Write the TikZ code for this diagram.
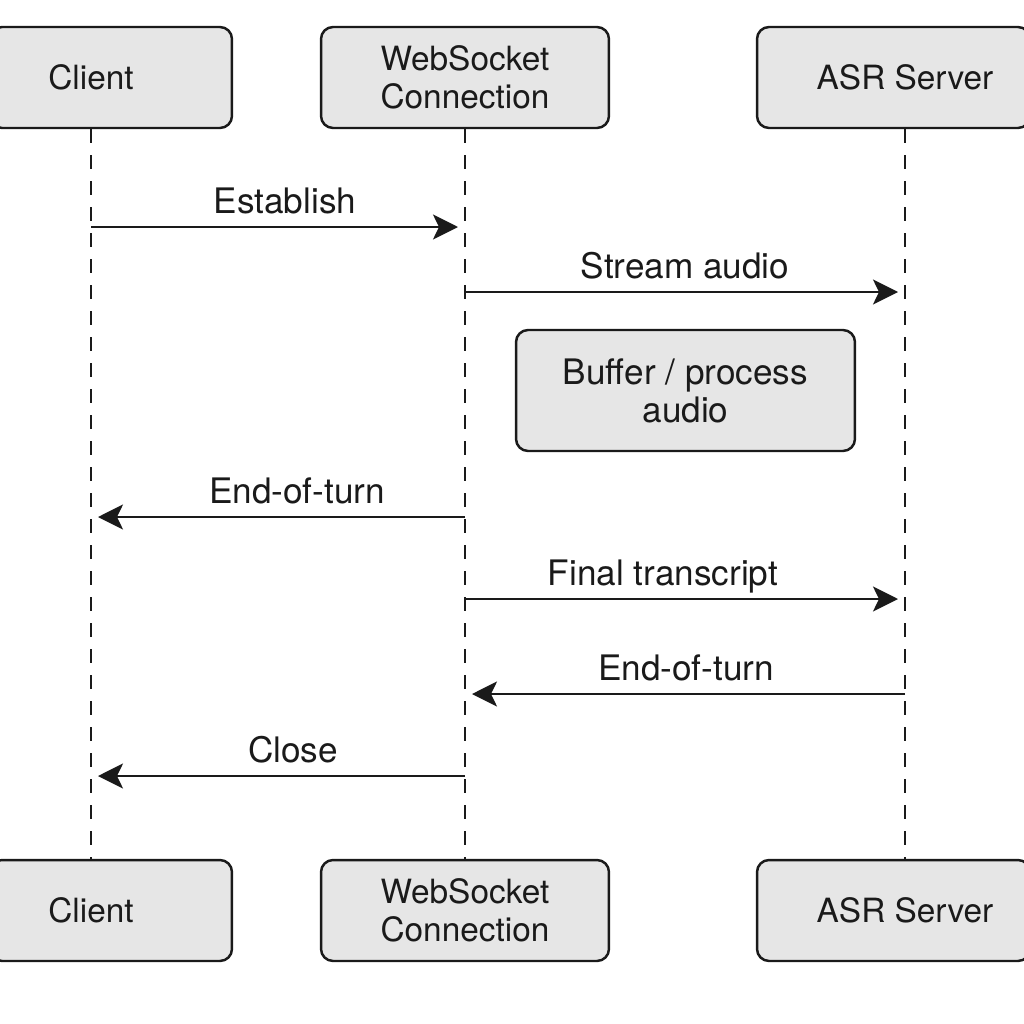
\documentclass[tikz,border=0pt]{standalone}
\usepackage{fontspec}
\setmainfont{TeX Gyre Heros}
\usetikzlibrary{arrows.meta}
\definecolor{boxfill}{HTML}{E6E6E6}
\definecolor{ink}{HTML}{1A1A1A}
\tikzset{
  headbox/.style={draw=ink, line width=1.4pt, fill=boxfill, rounded corners=0.24cm,
    minimum height=2.02cm, inner sep=0pt},
  boxtext/.style={align=center, font=\fontsize{19}{21.6}\selectfont, text=ink, inner sep=0pt},
  lifeline/.style={draw=ink, line width=1.3pt, dash pattern=on 0.28cm off 0.24cm},
  msg/.style={draw=ink, line width=1.4pt, shorten >=0.14cm,
    -{Stealth[length=0.5cm, width=0.5cm, inset=0.12cm]}},
  msglabel/.style={anchor=base, font=\fontsize{20}{24}\selectfont, text=ink, inner sep=0pt}
}
\begin{document}
\begin{tikzpicture}[x=0.02cm, y=-0.02cm]

    % Page frame (pixel units, y going down)
    \useasboundingbox (0,0) rectangle (1024,1024);

    % Lifeline positions
    \def\xcl{91}     % Client
    \def\xws{465}    % WebSocket connection
    \def\xasr{905}   % ASR server
    \def\ytop{77.5}  % centre of the top boxes
    \def\ybot{910.5} % centre of the bottom boxes

    % -- Participant boxes, top and bottom --
    \foreach \pos/\yy in {top/\ytop, bot/\ybot} {
      \node[headbox, minimum width=4.84cm] (cl-\pos box) at (111,\yy) {};
      \node[boxtext] (cl-\pos) at (\xcl,\yy) {Client};
      \node[headbox, minimum width=5.76cm] (ws-\pos box) at (\xws,\yy) {};
      \node[boxtext] (ws-\pos) at (\xws,\yy) {WebSocket\\Connection};
      \node[headbox, minimum width=5.46cm] (asr-\pos box) at (893.5,\yy) {};
      \node[boxtext] (asr-\pos) at (\xasr,\yy) {ASR Server};
    }

    % -- Dashed lifelines --
    \draw[lifeline] (cl-top |- cl-topbox.south) -- (cl-bot |- cl-botbox.north);
    \draw[lifeline] (ws-topbox.south) -- (ws-botbox.north);
    \draw[lifeline] (asr-top |- asr-topbox.south) -- (asr-bot |- asr-botbox.north);

    % -- Processing note on the server side --
    \node[headbox, minimum width=6.78cm, minimum height=2.42cm] (buf) at (685.5,390.5) {};
    \node[boxtext, font=\fontsize{20}{21.6}\selectfont] (buf-txt) at (685.5,391) {Buffer / process\\audio};

    % -- Messages: name/from/to/y/label x/label --
    \foreach \nm/\src/\dst/\yy/\lx/\txt in {
        est/\xcl/\xws/227/285/Establish,
        stream/\xws/\xasr/292/685/Stream audio,
        eot/\xws/\xcl/517/297/End-of-turn,
        final/\xws/\xasr/599/663/Final transcript,
        eotsrv/\xasr/\xws/694/686/End-of-turn,
        close/\xws/\xcl/776/293/Close} {
      \coordinate (\nm-a) at (\src,\yy);
      \coordinate (\nm-b) at (\dst,\yy);
      \draw[msg] (\nm-a) -- (\nm-b);
      \node[msglabel] (\nm-lbl) at (\lx,\yy-14) {\txt};
    }

\end{tikzpicture}
\end{document}
